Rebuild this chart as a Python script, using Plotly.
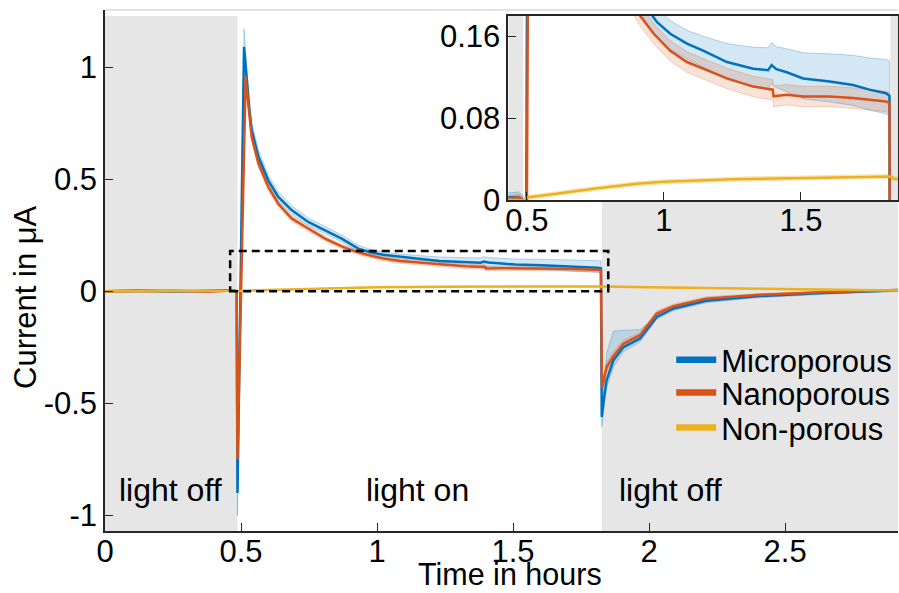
import plotly.graph_objects as go

# ---------------- data ----------------
t_micro = [0, 0.12, 0.25, 0.38, 0.47, 0.484, 0.487, 0.511, 0.521, 0.53, 0.539, 0.564, 0.60, 0.637,
           0.686, 0.747, 0.809, 0.87, 0.931, 0.975, 1.023, 1.084, 1.145, 1.23, 1.326, 1.38, 1.393,
           1.41, 1.448, 1.508, 1.605, 1.69, 1.75, 1.81, 1.823, 1.826, 1.835, 1.844, 1.869, 1.906,
           1.967, 2.0, 2.028, 2.09, 2.21, 2.396, 2.64, 2.915]
y_micro = [0.0, 0.002, -0.001, 0.002, 0.003, 0.0, -0.90, 1.09, 0.94, 0.82, 0.72, 0.60, 0.495, 0.421,
           0.362, 0.309, 0.272, 0.235, 0.19, 0.174, 0.1626, 0.153, 0.146, 0.135, 0.1285, 0.127, 0.132,
           0.128, 0.125, 0.119, 0.116, 0.1126, 0.108, 0.1045, 0.102, -0.561, -0.47, -0.397, -0.308,
           -0.249, -0.211, -0.16, -0.115, -0.077, -0.043, -0.022, -0.0075, 0.004]
up_micro = [0.004, 0.004, 0.004, 0.004, 0.005, 0.005, 0.02, 0.08, 0.05, 0.04, 0.035, 0.03, 0.025, 0.022,
            0.02, 0.018, 0.017, 0.016, 0.015, 0.013, 0.013, 0.013, 0.014, 0.018, 0.021, 0.022, 0.022,
            0.022, 0.023, 0.025, 0.027, 0.029, 0.031, 0.033, 0.034, 0.02, 0.06, 0.12, 0.13, 0.075,
            0.04, 0.02, 0.015, 0.012, 0.01, 0.008, 0.006, 0.005]
dn_micro = [0.004, 0.004, 0.004, 0.004, 0.004, 0.005, 0.10, 0.03, 0.03, 0.03, 0.03, 0.025, 0.022, 0.02,
            0.018, 0.016, 0.015, 0.015, 0.015, 0.015, 0.015, 0.015, 0.016, 0.017, 0.018, 0.018, 0.018,
            0.018, 0.019, 0.02, 0.02, 0.02, 0.02, 0.02, 0.02, 0.045, 0.04, 0.035, 0.03, 0.02,
            0.015, 0.012, 0.01, 0.009, 0.008, 0.007, 0.006, 0.005]

t_nano = [0, 0.12, 0.25, 0.38, 0.47, 0.484, 0.487, 0.517, 0.527, 0.539, 0.564, 0.60, 0.637, 0.686,
          0.747, 0.809, 0.87, 0.914, 0.963, 1.023, 1.084, 1.145, 1.23, 1.326, 1.397, 1.40, 1.448,
          1.508, 1.605, 1.69, 1.75, 1.81, 1.823, 1.827, 1.835, 1.844, 1.869, 1.906, 1.967, 2.028,
          2.09, 2.21, 2.396, 2.64, 2.915]
y_nano = [0.0, 0.001, 0.002, -0.001, 0.003, 0.0, -0.75, 0.957, 0.84, 0.689, 0.57, 0.466, 0.39, 0.325,
          0.28, 0.235, 0.20, 0.18, 0.1626, 0.146, 0.135, 0.1285, 0.119, 0.111, 0.108, 0.1015, 0.103,
          0.1013, 0.1013, 0.0998, 0.098, 0.0965, 0.095, -0.43, -0.39, -0.338, -0.29, -0.234, -0.196,
          -0.10, -0.067, -0.033, -0.017, -0.005, 0.005]
sd_nano = [0.003, 0.003, 0.003, 0.003, 0.003, 0.003, 0.03, 0.03, 0.025, 0.02, 0.018, 0.016, 0.014, 0.013,
           0.012, 0.011, 0.01, 0.01, 0.01, 0.01, 0.01, 0.01, 0.01, 0.01, 0.01, 0.01, 0.01,
           0.01, 0.01, 0.01, 0.01, 0.01, 0.01, 0.02, 0.02, 0.02, 0.02, 0.015, 0.012, 0.012,
           0.01, 0.008, 0.006, 0.005, 0.004]

t_non = [0, 0.3, 0.487, 0.5, 0.6, 0.75, 0.9, 1.0, 1.25, 1.5, 1.8, 1.826, 1.84, 2.0, 2.3, 2.6, 2.915]
y_non = [0.0, 0.001, 0.0, 0.0026, 0.006, 0.0114, 0.016, 0.0179, 0.0205, 0.0218, 0.0231, 0.0232,
         0.021, 0.018, 0.012, 0.007, 0.003]
sd_non = [0.002] * len(t_non)

series_names = ["Microporous", "Nanoporous", "Non-porous"]
colors = ["#0072BD", "#D95319", "#EDB120"]
band_fill = ["rgba(0,114,189,0.17)", "rgba(217,83,25,0.17)", "rgba(237,177,32,0.2)"]
band_edge = ["rgba(0,114,189,0.35)", "rgba(217,83,25,0.3)", "rgba(237,177,32,0.35)"]

light_on, light_off = 0.487, 1.826
x_tick_main = [0, 0.5, 1, 1.5, 2, 2.5]
x_tick_main_text = ["0", "0.5", "1", "1.5", "2", "2.5"]
y_tick_main = [-1, -0.5, 0, 0.5, 1]
y_tick_main_text = ["-1", "-0.5", "0", "0.5", "1"]
x_tick_inset = [0.5, 1, 1.5]
x_tick_inset_text = ["0.5", "1", "1.5"]
y_tick_inset = [0, 0.08, 0.16]
y_tick_inset_text = ["0", "0.08", "0.16"]
region_labels = ["light off", "light on", "light off"]
region_label_x = [0.239, 1.147, 2.077]

# ---------------- layout geometry ----------------
XR = [0, 2.915]
YR = [-1.07, 1.255]
SHADE_TOP = 1.228
XR2 = [0.432, 1.854]
YR2 = [0, 0.18]
RECT_X = [0.46, 1.85]
INSET_DX = [0.5085, 1.0]
INSET_DY = [0.635, 0.9885]
LEGEND_X = 0.714
LEGEND_Y = [0.328, 0.265, 0.198]
FONT = "Liberation Sans, Arial, sans-serif"

series = [
    (t_micro, y_micro, [a - b for a, b in zip(y_micro, dn_micro)], [a + b for a, b in zip(y_micro, up_micro)]),
    (t_nano, y_nano, [a - b for a, b in zip(y_nano, sd_nano)], [a + b for a, b in zip(y_nano, sd_nano)]),
    (t_non, y_non, [a - b for a, b in zip(y_non, sd_non)], [a + b for a, b in zip(y_non, sd_non)]),
]

fig = go.Figure()
for xa, ya in (("x", "y"), ("x2", "y2")):
    for i, (t, y, lo, hi) in enumerate(series):
        fig.add_trace(go.Scatter(x=t, y=lo, mode="lines", line=dict(color=band_edge[i], width=0.8),
                                 showlegend=False, hoverinfo="skip", xaxis=xa, yaxis=ya))
        fig.add_trace(go.Scatter(x=t, y=hi, mode="lines", line=dict(color=band_edge[i], width=0.8),
                                 fill="tonexty", fillcolor=band_fill[i],
                                 showlegend=False, hoverinfo="skip", xaxis=xa, yaxis=ya))
    for i, (t, y, lo, hi) in enumerate(series):
        fig.add_trace(go.Scatter(x=t, y=y, mode="lines", line=dict(color=colors[i], width=2.5),
                                 showlegend=False, name=series_names[i], xaxis=xa, yaxis=ya))

# legend entries (thick lines), one legend per row for exact spacing
legend_ids = ["legend", "legend2", "legend3"]
for i, name in enumerate(series_names):
    fig.add_trace(go.Scatter(x=[None], y=[None], mode="lines", name=name, legend=legend_ids[i],
                             line=dict(color=colors[i], width=6.5), showlegend=True))

shapes = [
    dict(type="rect", xref="x", yref="y", x0=XR[0], x1=light_on, y0=YR[0], y1=SHADE_TOP,
         fillcolor="#e6e6e6", line=dict(width=0), layer="below"),
    dict(type="rect", xref="x", yref="y", x0=light_off, x1=XR[1], y0=YR[0],
         y1=YR[0] + INSET_DY[0] * (YR[1] - YR[0]),
         fillcolor="#e6e6e6", line=dict(width=0), layer="below"),
    dict(type="rect", xref="x2", yref="y2", x0=XR2[0], x1=light_on, y0=YR2[0], y1=YR2[1],
         fillcolor="#e6e6e6", line=dict(width=0), layer="below"),
    dict(type="rect", xref="x2", yref="y2", x0=light_off, x1=XR2[1], y0=YR2[0], y1=YR2[1],
         fillcolor="#e6e6e6", line=dict(width=0), layer="below"),
    dict(type="rect", xref="x", yref="y", x0=RECT_X[0], x1=RECT_X[1], y0=YR2[0], y1=YR2[1],
         line=dict(color="black", width=2.5, dash="8px,5px"), fillcolor="rgba(0,0,0,0)", layer="above"),
    dict(type="line", xref="paper", yref="paper", x0=0, x1=1, y0=1, y1=1,
         line=dict(color="#d9d9d9", width=1.5), layer="above"),
]

annotations = [dict(x=region_label_x[i], y=-0.888, xref="x", yref="y", text=region_labels[i],
                    showarrow=False, font=dict(family=FONT, size=32, color="black"))
               for i in range(3)]
annotations.append(dict(x=0.511, y=-0.1175, xref="paper", yref="paper", text="Time in hours",
                        showarrow=False, xanchor="center", yanchor="bottom", borderpad=0,
                        font=dict(family=FONT, size=30.5, color="black")))
annotations.append(dict(x=-0.101, y=0.449, xref="paper", yref="paper", text="Current in μA",
                        showarrow=False, textangle=-90, xanchor="center", yanchor="middle",
                        font=dict(family=FONT, size=31, color="black")))

axis_common = dict(ticks="inside", ticklen=8, tickwidth=1.3, tickcolor="#262626", showline=True,
                   linecolor="#262626", linewidth=1.5, showgrid=False, zeroline=False,
                   tickfont=dict(family=FONT, size=31, color="black"), tickmode="array",
                   automargin=False)

legend_common = dict(xanchor="left", yanchor="middle", bgcolor="rgba(0,0,0,0)", itemwidth=40,
                     font=dict(family=FONT, size=31, color="black"))

fig.update_layout(
    width=899, height=593,
    margin=dict(l=105, r=1, t=10, b=62),
    paper_bgcolor="white", plot_bgcolor="white",
    showlegend=True,
    legend=dict(x=LEGEND_X, y=LEGEND_Y[0], **legend_common),
    legend2=dict(x=LEGEND_X, y=LEGEND_Y[1], **legend_common),
    legend3=dict(x=LEGEND_X, y=LEGEND_Y[2], **legend_common),
    xaxis=dict(domain=[0, 1], range=XR, tickvals=x_tick_main, ticktext=x_tick_main_text,
               anchor="y", ticklabelstandoff=-8, **axis_common),
    yaxis=dict(domain=[0, 1], range=YR, tickvals=y_tick_main, ticktext=y_tick_main_text,
               anchor="x", **axis_common),
    xaxis2=dict(domain=INSET_DX, range=XR2, tickvals=x_tick_inset, ticktext=x_tick_inset_text,
                anchor="y2", mirror=True, ticklabelstandoff=-8, **axis_common),
    yaxis2=dict(domain=INSET_DY, range=YR2, tickvals=y_tick_inset, ticktext=y_tick_inset_text,
                anchor="x2", mirror=True, **axis_common),
    shapes=shapes,
    annotations=annotations,
    hovermode=False,
)

fig.write_html("out.html", config=dict(displayModeBar=False))
